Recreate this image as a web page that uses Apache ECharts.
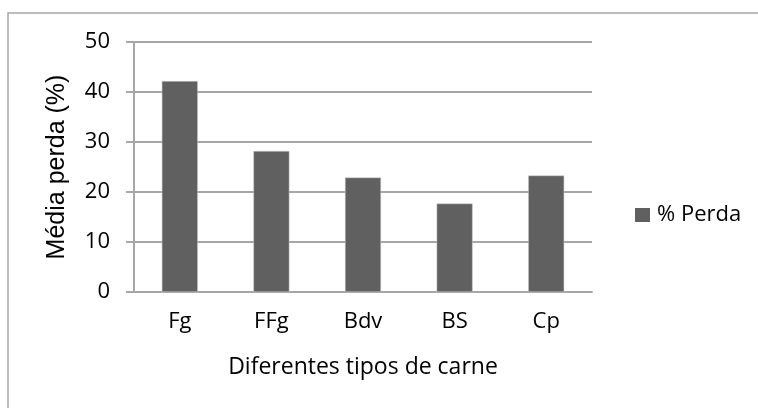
<!DOCTYPE html>
<html lang="pt">

<head>
  <meta charset="UTF-8" />
  <title>Média perda</title>
  <style>
    html, body { margin: 0; padding: 0; background: #fff; }
  </style>
</head>

<body>
  <div id="main" style="width: 758px; height: 408px;"></div>
  <script src="https://cdn.jsdelivr.net/npm/echarts@6/dist/echarts.min.js"></script>
  <script type="text/javascript">
    // dados
    const categories = ['Fg', 'FFg', 'Bdv', 'BS', 'Cp']
    const perda = [42.2, 28.2, 22.9, 17.7, 23.3]
    const seriesName = '% Perda'

    const calibri = '"Open Sans", sans-serif'
    const grey = '#a6a6a6'

    var myChart = echarts.init(document.getElementById('main'))

    var option = {
      animation: false,
      backgroundColor: '#fff',
      // moldura do gráfico (só topo e esquerda aparecem)
      graphic: [{
        type: 'rect',
        shape: { x: 8, y: 13, width: 800, height: 450 },
        style: { fill: 'none', stroke: grey, lineWidth: 1.5 },
        z: -1
      }],
      grid: { left: 134, right: 166, top: 42, bottom: 116 },
      legend: {
        data: [seriesName],
        left: 635,
        top: 204,
        padding: 0,
        itemWidth: 15,
        itemHeight: 14,
        icon: 'rect',
        itemStyle: { borderWidth: 0 },
        textStyle: { fontFamily: calibri, fontSize: 22, color: '#000', padding: [0, 0, 0, 2] }
      },
      xAxis: {
        type: 'category',
        data: categories,
        name: 'Diferentes tipos de carne',
        nameLocation: 'middle',
        nameGap: 64,
        nameTextStyle: { fontFamily: calibri, fontSize: 23, color: '#000' },
        axisLine: { lineStyle: { color: grey, width: 2 } },
        axisTick: { show: false },
        axisLabel: { margin: 19, fontFamily: calibri, fontSize: 22, color: '#000' }
      },
      yAxis: {
        type: 'value',
        min: 0,
        max: 50,
        interval: 10,
        name: 'Média perda (%)',
        nameLocation: 'middle',
        nameGap: 64,
        nameTextStyle: { fontFamily: '"Liberation Sans", Arial, sans-serif', fontSize: 25, color: '#000' },
        axisLine: { show: true, lineStyle: { color: grey, width: 2 } },
        axisTick: { show: true, length: 8, lineStyle: { color: grey, width: 2 } },
        axisLabel: { margin: 24, fontFamily: calibri, fontSize: 22, color: '#000' },
        splitLine: { lineStyle: { color: grey, width: 2 } }
      },
      series: [{
        name: seriesName,
        type: 'bar',
        data: perda,
        barWidth: 36,
        itemStyle: { color: '#606060', borderColor: '#d0d0d0', borderWidth: 0.5 }
      }]
    }

    myChart.setOption(option)
  </script>
</body>

</html>
